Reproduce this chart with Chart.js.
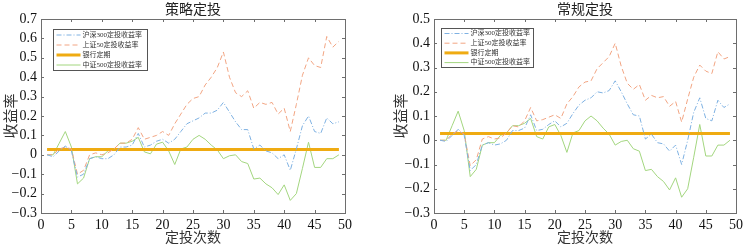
<!DOCTYPE html>
<html>
<head>
<meta charset="utf-8">
<script src="https://cdn.jsdelivr.net/npm/chart.js@4.4.0/dist/chart.umd.min.js"></script>
<style>
  body { margin: 0; background: #fff; }
  #wrap { position: relative; width: 747px; height: 248px; }
  .box { position: absolute; top: 0; height: 248px; }
</style>
</head>
<body>
<div id="wrap">
  <div class="box" style="left:0;width:374px"><canvas id="left"></canvas></div>
  <div class="box" style="left:374px;width:373px"><canvas id="right"></canvas></div>
</div>
<script>
// 定投次数
var rounds = [1,2,3,4,5,6,7,8,9,10,11,12,13,14,15,16,17,18,19,20,21,22,23,24,25,
              26,27,28,29,30,31,32,33,34,35,36,37,38,39,40,41,42,43,44,45,46,47,48,49];

// 策略定投
var hs300Strategy = [0,-0.01,0.02,0.045,0.02,-0.115,-0.10,-0.02,-0.01,-0.02,-0.02,0.0,0.04,0.04,0.05,
  0.11,0.04,0.05,0.07,0.08,0.06,0.08,0.12,0.16,0.175,0.19,0.215,0.215,0.23,0.27,
  0.22,0.17,0.13,0.13,0.03,0.05,0.02,0.01,-0.02,0.0,-0.08,0.03,0.15,0.20,0.12,0.11,0.19,0.16,0.17];
var sz50Strategy = [0,0,0.03,0.04,0.03,-0.10,-0.08,0.0,0.01,0.0,0.01,0.03,0.06,0.06,0.08,
  0.14,0.08,0.09,0.10,0.12,0.10,0.16,0.21,0.26,0.29,0.30,0.36,0.40,0.45,0.53,
  0.40,0.32,0.30,0.33,0.24,0.27,0.26,0.27,0.21,0.24,0.12,0.26,0.41,0.50,0.46,0.45,0.61,0.555,0.585];

// 常规定投
var hs300Regular = [0,-0.005,0.02,0.045,0.02,-0.125,-0.10,-0.02,-0.01,-0.02,-0.015,0.0,0.04,0.04,0.05,
  0.105,0.04,0.045,0.065,0.08,0.055,0.07,0.11,0.145,0.165,0.175,0.20,0.195,0.205,0.245,
  0.20,0.15,0.105,0.10,0.005,0.025,-0.01,-0.015,-0.045,-0.02,-0.10,0.0,0.115,0.175,0.09,0.08,0.165,0.135,0.15];
var sz50Regular = [0,0,0.025,0.04,0.025,-0.105,-0.08,0.005,0.015,0.005,0.01,0.03,0.06,0.055,0.08,
  0.135,0.08,0.085,0.095,0.105,0.09,0.15,0.18,0.22,0.24,0.245,0.295,0.32,0.345,0.40,
  0.305,0.235,0.21,0.23,0.165,0.185,0.175,0.18,0.14,0.16,0.075,0.17,0.26,0.31,0.285,0.275,0.365,0.335,0.345];

// 中证500 (same in both panels)
var zz500 = [0,0,0.06,0.12,0.04,-0.15,-0.12,-0.02,-0.01,-0.01,0.02,0.03,0.06,0.06,0.07,
  0.09,0.015,0.005,0.055,0.065,0.02,-0.05,0.03,0.04,0.08,0.10,0.08,0.05,0.025,-0.02,
  -0.005,0.0,-0.035,-0.045,-0.125,-0.12,-0.15,-0.17,-0.205,-0.155,-0.235,-0.20,-0.07,0.065,-0.065,-0.065,-0.02,-0.02,0.0];

// 银行定期
var bankX = [1, 49];
var bankY = [0.0275, 0.0275];

var xTicks = [0,5,10,15,20,25,30,35,40,45,50];

var SERIF = "'Liberation Serif', 'Times New Roman', 'Noto Sans CJK SC', serif";

function pts(xs, ys) {
  return xs.map(function (x, i) { return { x: x, y: ys[i] }; });
}

// box around plot with inward ticks, title, and legend inside the plot
var matlabAxes = {
  id: 'matlabAxes',
  afterDatasetsDraw: function (chart, args, opts) {
    var ctx = chart.ctx, a = chart.chartArea;
    var xs = chart.scales.x, ys = chart.scales.y;
    ctx.save();
    ctx.strokeStyle = '#6e6e6e';
    ctx.lineWidth = 1;
    ctx.strokeRect(Math.round(a.left) + 0.5, Math.round(a.top) + 0.5,
      Math.round(a.right - a.left), Math.round(a.bottom - a.top));
    ctx.beginPath();
    xs.ticks.forEach(function (t) {
      var px = Math.round(xs.getPixelForValue(t.value)) + 0.5;
      ctx.moveTo(px, a.bottom); ctx.lineTo(px, a.bottom - 3);
      ctx.moveTo(px, a.top); ctx.lineTo(px, a.top + 3);
    });
    ys.ticks.forEach(function (t) {
      var py = Math.round(ys.getPixelForValue(t.value)) + 0.5;
      ctx.moveTo(a.left, py); ctx.lineTo(a.left + 3, py);
      ctx.moveTo(a.right, py); ctx.lineTo(a.right - 3, py);
    });
    ctx.stroke();

    // title
    ctx.fillStyle = '#222';
    ctx.font = "14px " + SERIF;
    ctx.textAlign = 'center';
    ctx.textBaseline = 'middle';
    ctx.fillText(opts.title, (a.left + a.right) / 2, 10);

    // legend
    var L = opts.legend;
    var bx = Math.round(a.left + L.dx) + 0.5, by = Math.round(a.top + L.dy) + 0.5;
    ctx.fillStyle = '#fff';
    ctx.fillRect(bx, by, L.w, L.h);
    ctx.strokeStyle = '#555';
    ctx.strokeRect(bx, by, L.w, L.h);
    ctx.font = "7px " + SERIF;
    ctx.textAlign = 'left';
    chart.data.datasets.forEach(function (ds, i) {
      var ry = by + L.first + L.step * i;
      ctx.save();
      ctx.strokeStyle = ds.borderColor;
      ctx.lineWidth = ds.borderWidth;
      ctx.setLineDash(ds.borderDash || []);
      ctx.beginPath();
      ctx.moveTo(bx + 3, ry); ctx.lineTo(bx + 27, ry);
      ctx.stroke();
      ctx.restore();
      ctx.fillStyle = '#333';
      ctx.fillText(ds.label, bx + 29, ry);
    });
    ctx.restore();
  }
};

function makeChart(id, title, hs, sz, yMax, axisW, padRight, yTitlePad, legend) {
  return new Chart(document.getElementById(id), {
    type: 'line',
    data: {
      datasets: [
        { label: '沪深300定投收益率', data: pts(rounds, hs), borderColor: '#7eb1e2',
          borderWidth: 1, borderDash: [5, 2, 1, 2] },
        { label: '上证50定投收益率', data: pts(rounds, sz), borderColor: '#f2a583',
          borderWidth: 1, borderDash: [5, 3] },
        { label: '银行定期', data: pts(bankX, bankY), borderColor: '#efab12',
          borderWidth: 3 },
        { label: '中证500定投收益率', data: pts(rounds, zz500), borderColor: '#a3d67f',
          borderWidth: 1 }
      ]
    },
    options: {
      responsive: true,
      maintainAspectRatio: false,
      animation: false,
      layout: { padding: { top: 19, right: padRight, left: 0, bottom: 0 } },
      elements: { point: { radius: 0 }, line: { tension: 0 } },
      plugins: {
        legend: { display: false },
        tooltip: { enabled: false },
        matlabAxes: { title: title, legend: legend }
      },
      scales: {
        x: {
          type: 'linear', min: 0, max: 50,
          afterFit: function (s) { s.height = 35; },
          afterBuildTicks: function (s) { s.ticks = xTicks.map(function (v) { return { value: v }; }); },
          grid: { display: false, drawTicks: false },
          border: { display: false },
          ticks: { padding: 4, color: '#111', font: { family: SERIF, size: 14 }, maxRotation: 0,
                   autoSkip: false },
          title: { display: true, text: '定投次数', color: '#333',
                   font: { family: SERIF, size: 14 }, padding: { top: 0, bottom: 1 } }
        },
        y: {
          min: -0.3, max: yMax,
          afterFit: function (s) { s.width = axisW; },
          grid: { display: false, drawTicks: false },
          border: { display: false },
          ticks: {
            stepSize: 0.1, padding: 4, color: '#111', font: { family: SERIF, size: 14 },
            autoSkip: false,
            callback: function (v) {
              var r = Math.round(v * 10) / 10;
              if (r === 0) return '0';
              return r.toFixed(1).replace('-', '\u2212');
            }
          },
          title: { display: true, text: '收益率', color: '#333',
                   font: { family: SERIF, size: 15 }, padding: { top: yTitlePad, bottom: 0 } }
        }
      }
    },
    plugins: [matlabAxes]
  });
}

makeChart('left', '策略定投', hs300Strategy, sz50Strategy, 0.7, 41, 29, 3,
  { dx: 12, dy: 10, w: 94, h: 41, first: 5.5, step: 10 });
makeChart('right', '常规定投', hs300Regular, sz50Regular, 0.5, 60, 9, 19,
  { dx: 7, dy: 9, w: 92, h: 39, first: 5, step: 9.7 });
</script>
</body>
</html>
